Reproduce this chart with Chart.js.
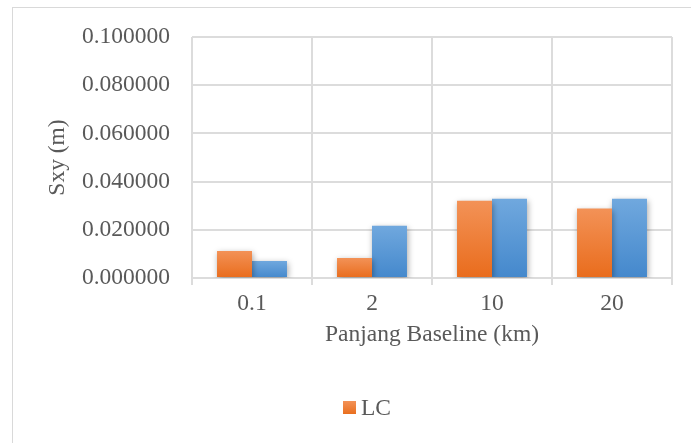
<!DOCTYPE html>
<html lang="id">
<head>
  <meta charset="UTF-8">
  <title>Sxy vs Panjang Baseline</title>
  <script src="https://cdn.jsdelivr.net/npm/chart.js"></script>
  <style>
    body {
      margin: 0;
      background: #ffffff;
      overflow: hidden;
    }
    .frame {
      position: absolute;
      left: 12px;
      top: 7px;
      width: 800px;
      height: 600px;
      border-left: 1px solid #d9d9d9;
      border-top: 1px solid #d9d9d9;
    }
    .wrap {
      position: absolute;
      left: 0;
      top: 0;
      width: 691px;
      height: 443px;
    }
  </style>
</head>
<body>
  <div class="frame"></div>
  <div class="wrap"><canvas id="chart" width="691" height="443"></canvas></div>

  <script>
    const baseline = ['0.1', '2', '10', '20'];
    const sxyLC = [0.01125, 0.0083, 0.0321, 0.0288];
    const sxyOther = [0.0071, 0.0217, 0.0329, 0.0329];
    const yTicks = [0, 0.02, 0.04, 0.06, 0.08, 0.1];

    const FONT = "'Liberation Serif', 'Times New Roman', serif";
    const SIZE = 23.5;
    const TEXT = '#595959';
    const GRID = '#dcdcdc';

    function barGradient(top, bottom) {
      return function (ctx) {
        const chart = ctx.chart;
        if (!chart.chartArea || ctx.parsed == null) return bottom;
        const y = chart.scales.y;
        const y0 = y.getPixelForValue(ctx.parsed.y);
        const y1 = y.getPixelForValue(0);
        const g = chart.ctx.createLinearGradient(0, y0, 0, y1);
        g.addColorStop(0, top);
        g.addColorStop(1, bottom);
        return g;
      };
    }

    const shadow = {
      id: 'shadow',
      beforeDatasetsDraw(chart) {
        const c = chart.ctx;
        c.save();
        c.shadowColor = 'rgba(0,0,0,0.35)';
        c.shadowBlur = 6;
        c.shadowOffsetX = 1;
        c.shadowOffsetY = 2;
      },
      afterDatasetsDraw(chart) {
        chart.ctx.restore();
      }
    };

    // only the LC entry is shown, as in the original
    const lcLegend = {
      id: 'lcLegend',
      afterDraw(chart) {
        const c = chart.ctx;
        const ds = chart.data.datasets[0];
        c.save();
        const g = c.createLinearGradient(0, 401, 0, 414);
        g.addColorStop(0, '#f39257');
        g.addColorStop(1, '#e96f1f');
        c.fillStyle = g;
        c.fillRect(343, 401, 13, 13);
        c.fillStyle = TEXT;
        c.font = SIZE + 'px ' + FONT;
        c.textBaseline = 'middle';
        c.textAlign = 'left';
        c.fillText(ds.label, 361, 409);
        c.restore();
      }
    };

    new Chart(document.getElementById('chart'), {
      type: 'bar',
      data: {
        labels: baseline,
        datasets: [{
          label: 'LC',
          data: sxyLC,
          backgroundColor: barGradient('#f39257', '#e96c1c'),
          barPercentage: 1,
          categoryPercentage: 0.583
        }, {
          label: '',
          data: sxyOther,
          backgroundColor: barGradient('#70a8de', '#4488cc'),
          barPercentage: 1,
          categoryPercentage: 0.583
        }]
      },
      options: {
        responsive: false,
        animation: false,
        layout: { padding: { left: 40, right: 19, top: 37, bottom: 94 } },
        plugins: {
          legend: { display: false },
          tooltip: { enabled: false }
        },
        scales: {
          x: {
            grid: { color: GRID, lineWidth: 2, offset: true, tickLength: 7 },
            border: { display: false },
            ticks: { color: TEXT, font: { family: FONT, size: SIZE }, padding: 5 },
            title: {
              display: true,
              text: 'Panjang Baseline (km)',
              color: TEXT,
              font: { family: FONT, size: SIZE },
              padding: { top: 4, bottom: 0 }
            },
            afterFit(scale) { scale.height = 71; }
          },
          y: {
            min: 0,
            max: 0.1,
            afterBuildTicks(scale) { scale.ticks = yTicks.map(v => ({ value: v })); },
            grid: { color: GRID, lineWidth: 2, drawTicks: false },
            border: { display: false },
            ticks: {
              color: TEXT,
              font: { family: FONT, size: SIZE },
              padding: 22,
              callback: v => Number(v).toFixed(6)
            },
            title: {
              display: true,
              text: 'Sxy (m)',
              color: TEXT,
              font: { family: FONT, size: SIZE },
              padding: { top: 4, bottom: 0 }
            },
            afterFit(scale) { scale.width = 152; }
          }
        }
      },
      plugins: [shadow, lcLegend]
    });
  </script>
</body>
</html>
